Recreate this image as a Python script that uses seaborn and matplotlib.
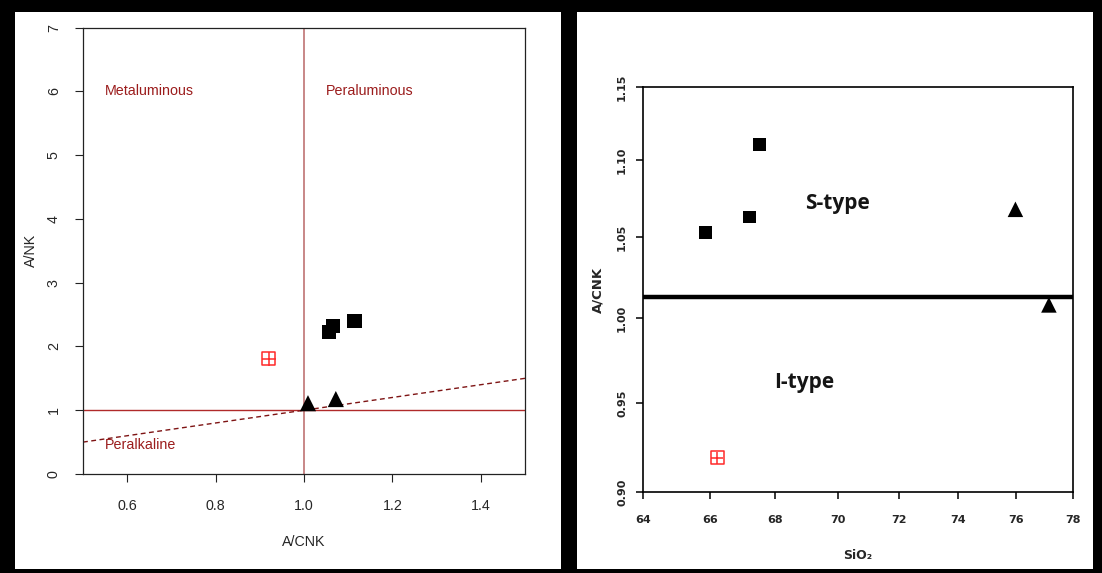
import numpy as np
import pandas as pd
import matplotlib
matplotlib.use("Agg")
import matplotlib.pyplot as plt
import seaborn as sns
from matplotlib import font_manager
from matplotlib.patches import Rectangle
from matplotlib.ticker import NullLocator, FixedLocator, FixedFormatter

# ---------------- data: left panel (A/CNK vs A/NK) ----------------
left_sq_acnk = [1.057, 1.066, 1.114]
left_sq_ank = [2.23, 2.32, 2.40]
left_tri_acnk = [1.009, 1.072]
left_tri_ank = [1.11, 1.175]
left_red_acnk = [0.920]
left_red_ank = [1.81]
boundary_x = [0.5, 1.5]
boundary_y = [0.5, 1.5]
left_xticks = [0.6, 0.8, 1.0, 1.2, 1.4]
left_xticklabels = ["0.6", "0.8", "1.0", "1.2", "1.4"]
left_yticks = [0, 1, 2, 3, 4, 5, 6, 7]
left_yticklabels = ["0", "1", "2", "3", "4", "5", "6", "7"]

# ---------------- data: right panel (SiO2 vs A/CNK, log axes) ----------------
right_sq_sio2 = [65.88, 67.21, 67.53]
right_sq_acnk = [1.053, 1.063, 1.1105]
right_tri_sio2 = [75.97, 77.15]
right_tri_acnk = [1.068, 1.008]
right_red_sio2 = [66.23]
right_red_acnk = [0.919]
is_boundary = 1.013
right_xticks = [64, 66, 68, 70, 72, 74, 76, 78]
right_xticklabels = ["64", "66", "68", "70", "72", "74", "76", "78"]
right_yticks = [0.90, 0.95, 1.00, 1.05, 1.10, 1.15]
right_yticklabels = ["0.90", "0.95", "1.00", "1.05", "1.10", "1.15"]

sns.set_style("ticks")
names = {f.name for f in font_manager.fontManager.ttflist}
if "Liberation Sans Narrow" in names:
    LFAM, LSZ = ["Liberation Sans Narrow", "DejaVu Sans"], 12
else:
    LFAM, LSZ = ["Liberation Sans", "DejaVu Sans"], 10.3
plt.rcParams["font.family"] = ["DejaVu Sans"]

W, H = 1102, 573
fig = plt.figure(figsize=(W / 100, H / 100), dpi=100)
fig.patch.set_facecolor("black")


def px_rect(x0, y0, x1, y1):
    return [x0 / W, 1 - y1 / H, (x1 - x0) / W, (y1 - y0) / H]


for (x0, y0, x1, y1) in [(15, 12, 561, 569), (577, 12, 1093, 569)]:
    fig.patches.append(Rectangle((x0 / W, 1 - y1 / H), (x1 - x0) / W, (y1 - y0) / H,
                                 transform=fig.transFigure, facecolor="white",
                                 edgecolor="none", zorder=-5))

# ================= LEFT PANEL =================
axL = fig.add_axes(px_rect(83, 27.5, 525, 474))
axL.set_facecolor("white")
axL.axvline(1.0, color="#C47E7E", lw=1.3, zorder=1)
axL.axhline(1.0, color="#B02A2A", lw=1.0, zorder=1)
sns.lineplot(x=boundary_x, y=boundary_y, ax=axL, color="#7E1414", lw=1.0,
             linestyle=(0, (3.5, 2.5)), zorder=2)

sns.scatterplot(x=left_sq_acnk, y=left_sq_ank, ax=axL, marker="s", s=105,
                color="black", edgecolor="none", linewidth=0, zorder=5)
sns.scatterplot(x=left_tri_acnk, y=left_tri_ank, ax=axL, marker="^", s=135,
                color="black", edgecolor="none", linewidth=0, zorder=5)
sns.scatterplot(x=left_red_acnk, y=left_red_ank, ax=axL, marker="s", s=95,
                color="#FF2A2A", facecolor="none", edgecolor="#FF2A2A", linewidth=1.1, zorder=5)
sns.scatterplot(x=left_red_acnk, y=left_red_ank, ax=axL, marker="+", s=95,
                color="#FF2A2A", linewidth=1.1, zorder=5)

tc = "#9B1C1C"
axL.text(0.55, 6, "Metaluminous", ha="left", va="center", color=tc, fontsize=LSZ, family=LFAM)
axL.text(1.05, 6, "Peraluminous", ha="left", va="center", color=tc, fontsize=LSZ, family=LFAM)
axL.text(0.55, 0.45, "Peralkaline", ha="left", va="center", color=tc, fontsize=LSZ, family=LFAM)

axL.set_xlim(0.5, 1.5)
axL.set_ylim(0, 7)
axL.set_xticks(left_xticks)
axL.set_xticklabels(left_xticklabels, family=LFAM, fontsize=LSZ)
axL.set_yticks(left_yticks)
axL.set_yticklabels(left_yticklabels, family=LFAM, fontsize=LSZ, rotation=90, va="center")
axL.tick_params(axis="both", direction="out", length=6, width=0.8, color="#222222")
axL.tick_params(axis="x", pad=12)
axL.tick_params(axis="y", pad=10)
for sp in axL.spines.values():
    sp.set_visible(True)
    sp.set_color("#222222")
    sp.set_linewidth(0.9)
axL.set_xlabel("A/CNK", family=LFAM, fontsize=LSZ)
axL.set_ylabel("A/NK", family=LFAM, fontsize=LSZ)
axL.xaxis.set_label_coords(0.5, -0.152)
axL.xaxis.label.set_va("center")
axL.yaxis.set_label_coords(-0.117, 0.5)
axL.yaxis.label.set_va("center")

# ================= RIGHT PANEL =================
axR = fig.add_axes(px_rect(643, 87, 1072.7, 492.3))
axR.set_facecolor("white")
axR.set_xscale("log")
axR.set_yscale("log")
axR.axhline(is_boundary, color="black", lw=3.2, zorder=2)

sns.scatterplot(x=right_sq_sio2, y=right_sq_acnk, ax=axR, marker="s", s=85,
                color="black", edgecolor="none", linewidth=0, zorder=5)
sns.scatterplot(x=right_tri_sio2, y=right_tri_acnk, ax=axR, marker="^", s=125,
                color="black", edgecolor="none", linewidth=0, zorder=5)
sns.scatterplot(x=right_red_sio2, y=right_red_acnk, ax=axR, marker="s", s=85,
                color="#FF2A2A", facecolor="none", edgecolor="#FF2A2A", linewidth=1.1, zorder=5)
sns.scatterplot(x=right_red_sio2, y=right_red_acnk, ax=axR, marker="+", s=85,
                color="#FF2A2A", linewidth=1.1, zorder=5)

axR.text(70, 1.072, "S-type", ha="center", va="center", color="#151515",
         fontsize=15, fontweight="bold", family=["Open Sans", "DejaVu Sans"])
axR.text(68.94, 0.962, "I-type", ha="center", va="center", color="#151515",
         fontsize=15, fontweight="bold", family=["Open Sans", "DejaVu Sans"])

axR.set_xlim(64, 78)
axR.set_ylim(0.90, 1.15)
axR.xaxis.set_major_locator(FixedLocator(right_xticks))
axR.xaxis.set_major_formatter(FixedFormatter(right_xticklabels))
axR.xaxis.set_minor_locator(NullLocator())
axR.yaxis.set_major_locator(FixedLocator(right_yticks))
axR.yaxis.set_major_formatter(FixedFormatter(right_yticklabels))
axR.yaxis.set_minor_locator(NullLocator())
for lab in axR.get_xticklabels():
    lab.set_fontweight("bold")
    lab.set_fontsize(8)
for lab in axR.get_yticklabels():
    lab.set_fontweight("bold")
    lab.set_fontsize(8)
    lab.set_rotation(90)
    lab.set_va("center")
axR.tick_params(axis="both", direction="out", length=5, width=1.1, color="black")
axR.tick_params(axis="x", pad=11)
axR.tick_params(axis="y", pad=6.5)
for sp in axR.spines.values():
    sp.set_visible(True)
    sp.set_color("black")
    sp.set_linewidth(1.2)
axR.set_xlabel("SiO₂", fontsize=9, fontweight="bold")
axR.set_ylabel("A/CNK", fontsize=9.5, fontweight="bold")
axR.xaxis.set_label_coords(0.5, -0.155)
axR.xaxis.label.set_va("center")
axR.yaxis.set_label_coords(-0.105, 0.5)
axR.yaxis.label.set_va("center")

fig.savefig("out.png", dpi=100, facecolor=fig.get_facecolor())
